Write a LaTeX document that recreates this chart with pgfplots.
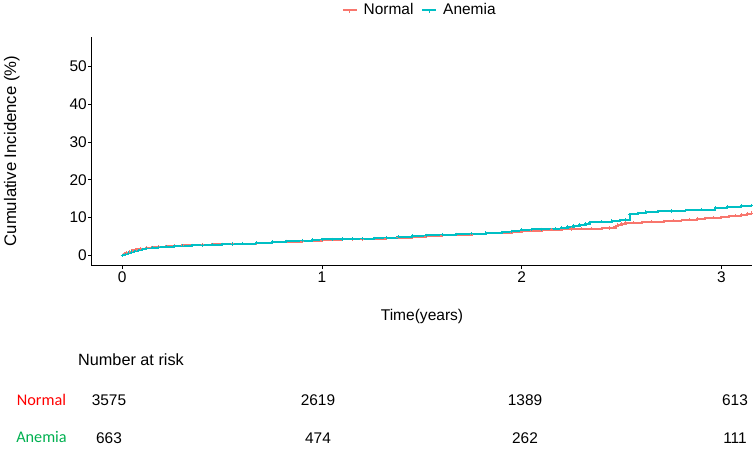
\documentclass[border=0pt]{standalone}
\usepackage{pgfplots}
\pgfplotsset{compat=1.18}
\usepackage{fontspec}
\setmainfont{Liberation Sans}
\newfontfamily\calib{Carlito}
\definecolor{cNormal}{HTML}{F8766D}
\definecolor{cAnemia}{HTML}{00BFC4}
\definecolor{rNormal}{HTML}{FF0000}
\definecolor{rAnemia}{HTML}{00B050}
\begin{document}
\begin{tikzpicture}
\path[use as bounding box] (0,0) rectangle (756bp,451bp);
\begin{axis}[
  at={(91.5bp,185.3bp)}, anchor=south west,
  scale only axis, width=660.5bp, height=228.7bp,
  xmin=-0.154, xmax=3.153, ymin=-2.75, ymax=57.75,
  axis lines=left, axis line style={-, black, line width=0.6pt},
  xtick={0,1,2,3}, ytick={0,10,20,30,40,50},
  tick align=outside, major tick length=3.5bp,
  tick style={black, line width=0.6pt},
  /pgf/number format/assume math mode=true,
  tick label style={font=\fontsize{15.5}{17}\selectfont, black},
  yticklabel style={inner sep=1bp},
  xticklabel style={inner sep=2bp},
  legend columns=2,
  legend style={draw=none, fill=none, at={(0.5,1.118)}, anchor=center,
    font=\fontsize{15.5}{17}\selectfont,
    nodes={inner xsep=6bp},
    /tikz/every even column/.append style={column sep=2bp}},
  legend image code/.code={
    \draw[#1, line width=1.8pt] (0bp,0bp) -- (14bp,0bp);
    \draw[#1, line width=0.8pt] (7bp,-3bp) -- (7bp,0bp);
  },
  clip=false,
]
\addplot+[const plot, cNormal, line width=2pt, mark=+, mark size=1.6pt, mark options={solid, line width=0.6pt}] coordinates {
(0,0) (0.01,0.4) (0.02,0.7) (0.035,1.0) (0.05,1.3) (0.07,1.55) (0.09,1.75)
(0.12,2.0) (0.15,2.15) (0.18,2.3) (0.22,2.4) (0.26,2.5) (0.3,2.6) (0.35,2.7)
(0.4,2.8) (0.45,2.9) (0.5,2.95) (0.55,3.05) (0.6,3.1) (0.67,3.25) (0.75,3.4)
(0.82,3.6) (0.9,3.8) (0.95,3.9) (1.0,4.0) (1.05,4.1) (1.1,4.2) (1.15,4.25)
(1.2,4.3) (1.26,4.4) (1.32,4.5) (1.38,4.7) (1.45,4.9) (1.52,5.1) (1.6,5.3)
(1.67,5.45) (1.75,5.6) (1.82,5.8) (1.9,6.0) (1.95,6.2) (2.0,6.4) (2.05,6.55)
(2.1,6.7) (2.15,6.8) (2.2,6.9) (2.25,6.95) (2.3,7.0) (2.35,7.05) (2.4,7.1)
(2.44,7.2) (2.46,7.3) (2.47,7.7) (2.48,8.0) (2.5,8.4) (2.52,8.6) (2.56,8.65)
(2.6,8.7) (2.65,8.85) (2.71,9.0) (2.76,9.15) (2.8,9.3) (2.84,9.45) (2.88,9.6)
(2.92,9.75) (2.96,9.9) (3.0,10.1) (3.04,10.3) (3.07,10.5) (3.1,10.7) (3.13,11.0) (3.15,11.2)
};
\addlegendentry{Normal}
\addplot+[const plot, cAnemia, line width=2pt, mark=+, mark size=1.6pt, mark options={solid, line width=0.6pt}] coordinates {
(0,0) (0.015,0.3) (0.03,0.6) (0.045,0.9) (0.06,1.1) (0.08,1.35) (0.1,1.6)
(0.12,1.8) (0.15,2.0) (0.18,2.15) (0.22,2.3) (0.26,2.4) (0.3,2.5) (0.35,2.6)
(0.4,2.7) (0.45,2.8) (0.5,2.9) (0.55,3.0) (0.6,3.1) (0.67,3.3) (0.75,3.5)
(0.82,3.7) (0.9,3.9) (0.95,4.05) (1.0,4.2) (1.05,4.25) (1.1,4.3) (1.15,4.35)
(1.2,4.4) (1.26,4.55) (1.32,4.7) (1.38,4.9) (1.45,5.1) (1.52,5.3) (1.6,5.5)
(1.67,5.6) (1.75,5.7) (1.82,5.9) (1.9,6.1) (1.95,6.4) (2.0,6.8) (2.05,6.85)
(2.1,6.9) (2.17,7.0) (2.2,7.3) (2.23,7.6) (2.26,7.85) (2.29,8.1) (2.32,8.4)
(2.34,8.7) (2.4,8.9) (2.45,9.1) (2.49,9.25) (2.52,9.4) (2.54,10.8) (2.58,11.1)
(2.62,11.5) (2.68,11.6) (2.75,11.7) (2.82,11.9) (2.9,12.1) (2.97,12.5) (3.03,12.9) (3.1,13.1) (3.15,13.2)
};
\addlegendentry{Anemia}
\end{axis}
\node[rotate=90, font=\fontsize{16.8}{19}\selectfont] at (11.7bp,300bp) {Cumulative Incidence (\%)};
\node[font=\fontsize{15.6}{18}\selectfont] at (422bp,135bp) {Time(years)};
\node[anchor=west, inner sep=0pt, font=\fontsize{16.3}{18}\selectfont] at (78bp,91bp) {Number at risk};
\node[font=\calib\fontsize{16.3}{18}\selectfont, text=rNormal] at (41.5bp,51bp) {Normal};
\node[font=\calib\fontsize{16.3}{18}\selectfont, text=rAnemia] at (41.5bp,14bp) {Anemia};
\begin{scope}[every node/.style={font=\fontsize{15.5}{17}\selectfont}]
\node at (109bp,51bp) {3575};
\node at (318bp,51bp) {2619};
\node at (525bp,51bp) {1389};
\node at (735bp,51bp) {613};
\node at (109bp,13bp) {663};
\node at (318bp,13bp) {474};
\node at (525bp,13bp) {262};
\node at (735bp,13bp) {111};
\end{scope}
\end{tikzpicture}
\end{document}
